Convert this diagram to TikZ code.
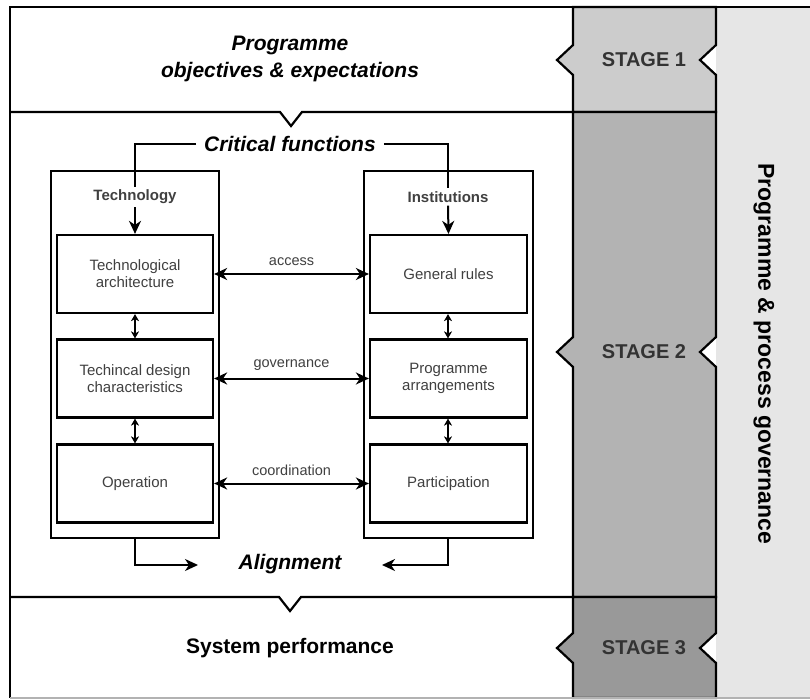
\documentclass[tikz,border=0pt]{standalone}
\usepackage{fontspec}
\setmainfont{Liberation Sans}
\usetikzlibrary{arrows.meta}
\definecolor{stageA}{HTML}{CCCCCC}
\definecolor{stageB}{HTML}{B3B3B3}
\definecolor{stageC}{HTML}{999999}
\definecolor{panel}{HTML}{E6E6E6}
\definecolor{inktext}{HTML}{404040}
\definecolor{stagetext}{HTML}{333333}
\begin{document}
\begin{tikzpicture}[x=1pt,y=-1pt,
  frame/.style={line width=2.2pt,line join=miter},
  group/.style={draw,line width=2.2pt,anchor=north west,inner sep=0pt},
  block/.style={draw,line width=2.2pt,minimum width=156pt,minimum height=78pt,
    align=center,font=\fontsize{15}{17}\selectfont,text=inktext,inner sep=0pt},
  grouplabel/.style={font=\bfseries\fontsize{15}{17}\selectfont,text=inktext,inner sep=3pt},
  title/.style={font=\bfseries\itshape\fontsize{21}{27}\selectfont,align=center},
  stagelabel/.style={font=\bfseries\fontsize{20}{22}\selectfont,text=stagetext},
  link/.style={line width=2pt,-{Stealth[length=13pt,width=12pt,inset=4pt]}},
  biglink/.style={line width=2pt,{Stealth[length=13pt,width=12pt,inset=4pt]}-{Stealth[length=13pt,width=12pt,inset=4pt]}},
  smalllink/.style={line width=1.8pt,{Stealth[length=7pt,width=8pt,inset=2pt]}-{Stealth[length=7pt,width=8pt,inset=2pt]}},
  linklabel/.style={font=\fontsize{14.5}{16}\selectfont,text=inktext}]
\useasboundingbox (0,0) rectangle (810,700);
\fill[white] (0,0) rectangle (810,700);

% governance side panel
\fill[panel] (716,7) rectangle (810,698);

% stage column
\draw[frame,fill=stageA] (573,7) -- (716,7) -- (716,45) -- (700,60) -- (716,75) -- (716,112)
  -- (573,112) -- (573,75) -- (557,60) -- (573,45) -- cycle;
\draw[frame,fill=stageB] (573,112) -- (716,112) -- (716,337) -- (700,352) -- (716,367) -- (716,597)
  -- (573,597) -- (573,367) -- (557,352) -- (573,337) -- cycle;
\draw[frame,fill=stageC] (573,597) -- (716,597) -- (716,633) -- (700,648) -- (716,663) -- (716,698)
  -- (573,698) -- (573,663) -- (557,648) -- (573,633) -- cycle;

% outer frame and row separators
\draw[frame] (810,7) -- (10,7) -- (10,698);
\draw[line width=1.2pt,gray!60] (10,698) -- (810,698);
\draw[frame] (10,112) -- (280,112) -- (291,126) -- (302,112) -- (573,112);
\draw[frame] (10,597) -- (279,597) -- (290,611) -- (301,597) -- (573,597);

% stage labels
\node[stagelabel] (s1) at (644,60) {STAGE 1};
\node[stagelabel] (s2) at (644,352) {STAGE 2};
\node[stagelabel] (s3) at (644,648) {STAGE 3};
\node[font=\bfseries\fontsize{23}{25}\selectfont,rotate=-90] (gov) at (764,354)
  {Programme \& process governance};

% row titles
\node[title] (obj) at (290,59) {Programme\\objectives \& expectations};
\node[font=\bfseries\fontsize{21}{24}\selectfont] (perf) at (290,648) {System performance};
\node[title,inner xsep=8pt] (crit) at (290,144) {Critical functions};
\node[title,inner xsep=8pt] (align) at (290,564) {Alignment};

% technology and institutions groups
\node[group,minimum width=168pt,minimum height=367pt] (tech) at (50,170) {};
\node[group,minimum width=169pt,minimum height=367pt] (inst) at (363,170) {};
\node[grouplabel] (techlbl) at (135,197) {Technology};
\node[grouplabel] (instlbl) at (448,197) {Institutions};

\node[block] (ta) at (135,274) {Technological\\architecture};
\node[block] (tb) at (135,378.5) {Techincal design\\characteristics};
\node[block] (tc) at (135,483.5) {Operation};
\node[block,minimum width=157pt] (ia) at (448.5,274) {General rules};
\node[block,minimum width=157pt] (ib) at (448.5,378.5) {Programme\\arrangements};
\node[block,minimum width=157pt] (ic) at (448.5,483.5) {Participation};

% critical functions feed both groups
\draw[line width=2pt] (crit.west) -| (techlbl.north);
\draw[line width=2pt] (crit.east) -| (instlbl.north);
\draw[link] (techlbl.south) -- (ta.north);
\draw[link] (instlbl.south) -- (ia.north);

% links within each group
\draw[smalllink] (ta.south) -- (tb.north);
\draw[smalllink] (tb.south) -- (tc.north);
\draw[smalllink] (ia.south -| 448,0) -- (ib.north -| 448,0);
\draw[smalllink] (ib.south -| 448,0) -- (ic.north -| 448,0);

% links between the groups
\draw[biglink] (ta.east) -- node[linklabel,above=4pt] {access} (ia.west);
\draw[biglink] (tb.east) -- node[linklabel,above=4pt] {governance} (ib.west);
\draw[biglink] (tc.east) -- node[linklabel,above=4pt] {coordination} (ic.west);

% alignment of both groups
\coordinate (alL) at (198,565);
\coordinate (alR) at (382,565);
\draw[link] (tech.south -| 135,0) |- (alL);
\draw[link] (inst.south -| 448,0) |- (alR);
\end{tikzpicture}
\end{document}
